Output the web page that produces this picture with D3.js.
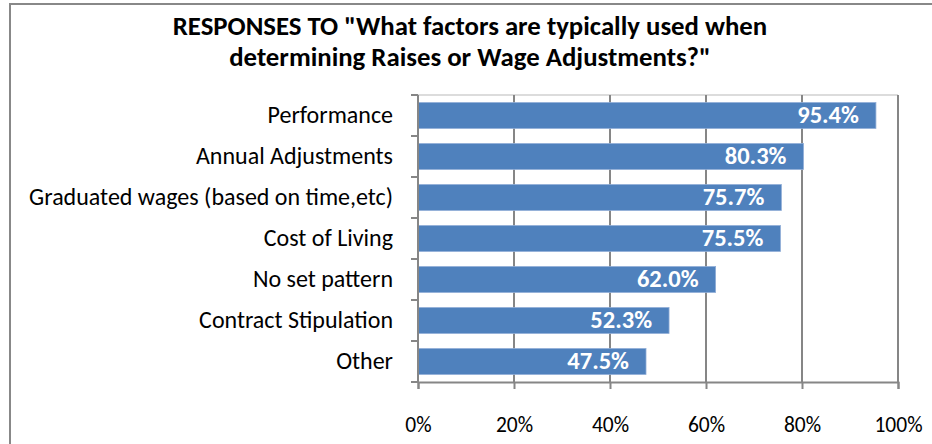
<!DOCTYPE html>
<html>
<head>
<meta charset="utf-8">
<script src="https://cdn.jsdelivr.net/npm/d3@7"></script>
<style>
    body { margin: 0; background: #fff; }
    svg { display: block; font-family: Calibri, Carlito, Lato, sans-serif; }
</style>
</head>
<body>
<div id="chart"></div>
<script>
// Survey responses: factors used for raises / wage adjustments
const categories = [
    'Performance',
    'Annual Adjustments',
    'Graduated wages (based on time,etc)',
    'Cost of Living',
    'No set pattern',
    'Contract Stipulation',
    'Other'
];
const values = [0.954, 0.803, 0.757, 0.755, 0.620, 0.523, 0.475];
const xTicks = [0, 0.2, 0.4, 0.6, 0.8, 1.0];
const titleLines = [
    'RESPONSES TO "What factors are typically used when',
    'determining Raises or Wage Adjustments?"'
];

const width = 932, height = 444;
// chart area margins [top, bottom, left, right]
const margin = [95, 62, 418, 34];

const svg = d3.select('#chart')
    .append('svg')
    .attr('width', width)
    .attr('height', height);

// outer chart border (runs off the right / bottom edge like the original)
svg.append('rect')
    .attr('x', 10).attr('y', 4)
    .attr('width', width).attr('height', height)
    .attr('fill', 'none')
    .attr('stroke', '#888')
    .attr('stroke-width', 2);

// title
svg.append('g')
    .selectAll('text')
    .data(titleLines)
    .join('text')
    .attr('x', 470)
    .attr('y', (d, i) => 35 + i * 31)
    .attr('text-anchor', 'middle')
    .attr('font-size', 26.8)
    .attr('font-weight', 'bold')
    .attr('fill', '#000')
    .text(d => d);

const chartWidth = width - margin[2] - margin[3];
const chartHeight = height - margin[0] - margin[1];

const scaleX = d3.scaleLinear()
    .domain([0, 1])
    .range([0, chartWidth]);

const scaleY = d3.scaleBand()
    .domain(categories)
    .range([0, chartHeight])
    .paddingInner(0.37)
    .paddingOuter(0.185);

const chart = svg.append('g')
    .attr('transform', `translate(${margin[2]}, ${margin[0]})`);

// top line of plot area
chart.append('line')
    .attr('x1', -7).attr('x2', chartWidth)
    .attr('y1', 0).attr('y2', 0)
    .attr('stroke', '#d0d0d0')
    .attr('stroke-width', 1.5);

// vertical gridlines
chart.append('g')
    .selectAll('line')
    .data(xTicks.slice(1))
    .join('line')
    .attr('x1', d => scaleX(d)).attr('x2', d => scaleX(d))
    .attr('y1', 0).attr('y2', chartHeight)
    .attr('stroke', '#868686')
    .attr('stroke-width', 2);

// bars
chart.append('g')
    .selectAll('rect')
    .data(values)
    .join('rect')
    .attr('x', 0)
    .attr('y', (d, i) => scaleY(categories[i]))
    .attr('width', d => scaleX(d))
    .attr('height', scaleY.bandwidth())
    .attr('fill', '#4F81BD')
    .attr('stroke', '#8EACD6')
    .attr('stroke-width', 0.8);

// value labels
chart.append('g')
    .selectAll('text')
    .data(values)
    .join('text')
    .attr('x', d => scaleX(d) - 17)
    .attr('y', (d, i) => scaleY(categories[i]) + scaleY.bandwidth() / 2)
    .attr('dy', '0.3em')
    .attr('text-anchor', 'end')
    .attr('font-size', 24.5)
    .attr('font-weight', 'bold')
    .attr('fill', '#fff')
    .text(d => d3.format('.1%')(d));

// category axis (ticks between bands)
const step = scaleY.step();
const yAxis = chart.append('g');
yAxis.append('line')
    .attr('x1', 0).attr('x2', 0)
    .attr('y1', 0).attr('y2', chartHeight)
    .attr('stroke', '#868686')
    .attr('stroke-width', 2);
yAxis.selectAll('line.tick')
    .data(d3.range(categories.length + 1))
    .join('line')
    .attr('class', 'tick')
    .attr('x1', -7).attr('x2', 0)
    .attr('y1', i => i * step).attr('y2', i => i * step)
    .attr('stroke', '#868686')
    .attr('stroke-width', 2);
yAxis.selectAll('text')
    .data(categories)
    .join('text')
    .attr('x', -25)
    .attr('y', d => scaleY(d) + scaleY.bandwidth() / 2)
    .attr('dy', '0.3em')
    .attr('text-anchor', 'end')
    .attr('font-size', 24)
    .attr('fill', '#000')
    .text(d => d);

// value axis
const xAxis = d3.axisBottom(scaleX)
    .tickValues(xTicks)
    .tickFormat(d3.format('.0%'))
    .tickSize(7)
    .tickPadding(28);

chart.append('g')
    .attr('transform', `translate(0, ${chartHeight})`)
    .call(xAxis)
    .call(g => g.select('.domain').attr('stroke', '#868686').attr('stroke-width', 2))
    .call(g => g.selectAll('.tick line').attr('stroke', '#868686').attr('stroke-width', 2))
    .call(g => g.selectAll('.tick text')
        .attr('font-family', 'Calibri, Carlito, Lato, sans-serif')
        .attr('font-size', 21.5)
        .attr('fill', '#000'));
</script>
</body>
</html>
